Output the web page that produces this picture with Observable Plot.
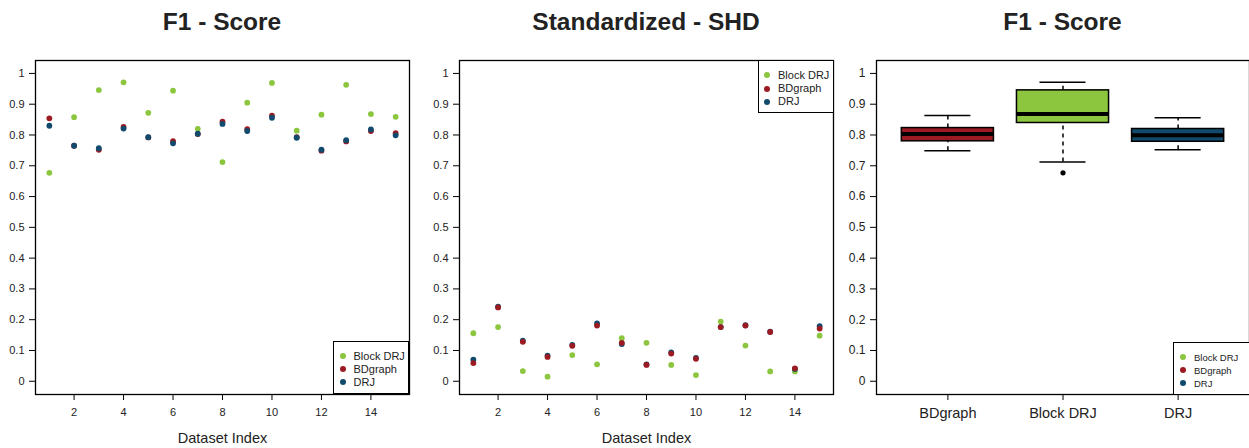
<!DOCTYPE html>
<html><head><meta charset="utf-8">
<script src="https://cdn.jsdelivr.net/npm/d3@7"></script>
<script src="https://cdn.jsdelivr.net/npm/@observablehq/plot@0.6"></script>
<style>
body{margin:0;background:#fff;font-family:"Liberation Sans",Arial,sans-serif;}
#root{position:relative;width:1249px;height:448px;overflow:hidden;background:#fff;}
.panel{position:absolute;top:0;}
.title{position:absolute;top:10px;font-weight:bold;font-size:24.5px;line-height:24px;text-align:center;color:#222;white-space:nowrap;}
.legend{position:absolute;background:#fff;border:1.3px solid #000;box-sizing:border-box;color:#222;}
.legend .row{position:absolute;left:0;height:13px;line-height:13px;white-space:nowrap;}
.legend .dot{position:absolute;width:6px;height:6px;border-radius:50%;top:3.5px;}
.legend .lab{position:absolute;top:0;}
</style>
</head><body>
<div id="root"></div>
<script>
// ---- data ----
const datasetIndex = [1,2,3,4,5,6,7,8,9,10,11,12,13,14,15];
const methods = ["Block DRJ","BDgraph","DRJ"];
const methodColors = ["#8cc63f","#9c1b22","#114a6c"];

const f1BlockDRJ = [0.677,0.858,0.946,0.971,0.872,0.944,0.820,0.712,0.905,0.969,0.814,0.866,0.963,0.868,0.859];
const f1BDgraph  = [0.854,0.765,0.752,0.826,0.792,0.780,0.803,0.843,0.819,0.863,0.793,0.749,0.779,0.813,0.806];
const f1DRJ      = [0.830,0.765,0.757,0.821,0.793,0.773,0.804,0.836,0.813,0.856,0.791,0.752,0.783,0.818,0.799];

const shdBlockDRJ = [0.156,0.176,0.033,0.015,0.085,0.055,0.140,0.125,0.053,0.020,0.194,0.116,0.032,0.032,0.148];
const shdBDgraph  = [0.059,0.240,0.128,0.079,0.115,0.181,0.125,0.053,0.090,0.073,0.176,0.181,0.160,0.042,0.171];
const shdDRJ      = [0.070,0.242,0.132,0.083,0.118,0.188,0.121,0.055,0.094,0.076,0.176,0.182,0.161,0.040,0.179];

const boxCategories = ["BDgraph","Block DRJ","DRJ"];
const yTicks = [0,0.1,0.2,0.3,0.4,0.5,0.6,0.7,0.8,0.9,1];
const xTicks = [2,4,6,8,10,12,14];
const titles = ["F1 - Score","Standardized - SHD","F1 - Score"];
const xLabel = "Dataset Index";

// ---- helpers ----
const colorOf = Object.fromEntries(methods.map((m,i)=>[m,methodColors[i]]));
const fmt = d => d3.format("~g")(d);
const FONT = "'Liberation Sans', Arial, sans-serif";
function longForm(series){ // series: [[name, values], ...] in draw order
  const out=[];
  for(const [name,vals] of series) vals.forEach((v,i)=>out.push({idx:datasetIndex[i],value:v,method:name}));
  return out;
}
function fivenum(a){
  const x=[...a].sort((p,q)=>p-q), n=x.length;
  const n4=Math.floor((n+3)/2)/2;
  return [1,n4,(n+1)/2,n+1-n4,n].map(v=>0.5*(x[Math.floor(v)-1]+x[Math.ceil(v)-1]));
}
function boxStats(vals, k, name){
  const f=fivenum(vals), iqr=f[3]-f[1];
  const lo=f[1]-1.5*iqr, hi=f[3]+1.5*iqr;
  const inside=vals.filter(v=>v>=lo&&v<=hi);
  return {k, name, q1:f[1], med:f[2], q3:f[3], wlo:d3.min(inside), whi:d3.max(inside),
          out:vals.filter(v=>v<lo||v>hi)};
}
const root=document.getElementById("root");
function place(node,left){const d=document.createElement("div");d.className="panel";d.style.left=left+"px";d.appendChild(node);root.appendChild(d);}
function title(text,center){const d=document.createElement("div");d.className="title";d.textContent=text;d.style.left=(center-200)+"px";d.style.width="400px";root.appendChild(d);}
function legend(left,top,width,height,fontSize,dotX,textX,rows){
  const L=document.createElement("div");L.className="legend";
  Object.assign(L.style,{left:left+"px",top:top+"px",width:width+"px",height:height+"px",fontSize:fontSize+"px"});
  methods.forEach((m,i)=>{
    const r=document.createElement("div");r.className="row";r.style.top=(rows[i]-6.5)+"px";r.style.width=width+"px";
    const dd=document.createElement("span");dd.className="dot";dd.style.left=(dotX-3)+"px";dd.style.background=colorOf[m];
    const t=document.createElement("span");t.className="lab";t.style.left=textX+"px";t.textContent=m;
    r.appendChild(dd);r.appendChild(t);L.appendChild(r);
  });
  root.appendChild(L);
}
const common = {height:448, marginTop:60, marginBottom:54,
  style:{fontFamily:FONT, color:"#222", background:"transparent", overflow:"visible"}};

function scatter(series, width, ml, mr){
  const data=longForm(series);
  return Plot.plot({...common, width, marginLeft:ml, marginRight:mr,
    x:{domain:[0.44,15.56]}, y:{domain:[-0.043,1.042]},
    marks:[
      Plot.frame({stroke:"#000",strokeWidth:1.3}),
      Plot.axisY({ticks:yTicks,tickFormat:fmt,tickSize:6,tickPadding:5,fontSize:11,label:null,stroke:"#000"}),
      Plot.axisX({ticks:xTicks,tickFormat:fmt,tickSize:6,tickPadding:8,fontSize:11,label:null,stroke:"#000"}),
      Plot.dot(data,{x:"idx",y:"value",fill:d=>colorOf[d.method],r:2.9}),
      Plot.text([xLabel],{text:d=>d,frameAnchor:"bottom",dy:48,fontSize:14.5,fill:"#222"})
    ]});
}

// ---- panel 1 ----
place(scatter([["Block DRJ",f1BlockDRJ],["BDgraph",f1BDgraph],["DRJ",f1DRJ]],420,35,11),0);
// ---- panel 2 ----
place(scatter([["Block DRJ",shdBlockDRJ],["DRJ",shdDRJ],["BDgraph",shdBDgraph]],420,39,7),420);
// ---- panel 3: boxplots ----
const boxSource={"BDgraph":f1BDgraph,"Block DRJ":f1BlockDRJ,"DRJ":f1DRJ};
const stats=boxCategories.map((c,i)=>boxStats(boxSource[c],i+1,c));
const outliers=stats.flatMap(s=>s.out.map(v=>({k:s.k,v})));
const box=Plot.plot({...common, width:409, marginLeft:36, marginRight:0,
  x:{domain:[0.38,3.62]}, y:{domain:[-0.043,1.042]},
  marks:[
    Plot.frame({stroke:"#000",strokeWidth:1.3}),
    Plot.axisY({ticks:yTicks,tickFormat:fmt,tickSize:6,tickPadding:5,fontSize:12,label:null,stroke:"#000"}),
    Plot.axisX({ticks:[1,2,3],tickFormat:i=>boxCategories[i-1],tickSize:6,tickPadding:7,fontSize:14.5,label:null,stroke:"#000"}),
    Plot.ruleX(stats,{x:"k",y1:"q3",y2:"whi",stroke:"#000",strokeWidth:1.5,strokeDasharray:"4,4"}),
    Plot.ruleX(stats,{x:"k",y1:"wlo",y2:"q1",stroke:"#000",strokeWidth:1.5,strokeDasharray:"4,4"}),
    Plot.ruleY(stats,{y:"whi",x1:d=>d.k-0.2,x2:d=>d.k+0.2,stroke:"#000",strokeWidth:1.5}),
    Plot.ruleY(stats,{y:"wlo",x1:d=>d.k-0.2,x2:d=>d.k+0.2,stroke:"#000",strokeWidth:1.5}),
    Plot.rect(stats,{x1:d=>d.k-0.4,x2:d=>d.k+0.4,y1:"q1",y2:"q3",fill:d=>colorOf[d.name],stroke:"#000",strokeWidth:1.5}),
    Plot.ruleY(stats,{y:"med",x1:d=>d.k-0.4,x2:d=>d.k+0.4,stroke:"#000",strokeWidth:4}),
    Plot.dot(outliers,{x:"k",y:"v",fill:"#000",r:2.6})
  ]});
place(box,840);

// ---- titles & legends ----
title(titles[0],222); title(titles[1],646); title(titles[2],1062.5);
legend(333,341,76,53,11,9,19.5,[14,27,40]);
legend(757.5,60,76,53,11,8,19.5,[14,27.5,40.5]);
legend(1173,341.5,80,53,9.5,8.5,20,[14.5,27.5,40.5]);
</script>
</body></html>
